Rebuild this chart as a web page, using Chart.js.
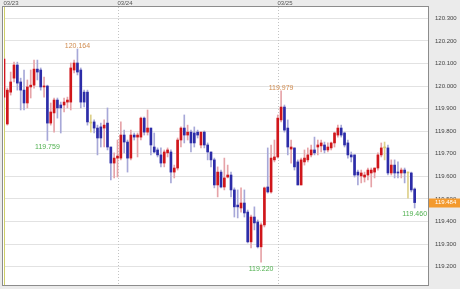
<!DOCTYPE html>
<html>
<head>
<meta charset="utf-8">
<script src="https://cdn.jsdelivr.net/npm/chart.js@4.4.1/dist/chart.umd.min.js"></script>
<style>
  html, body { margin: 0; padding: 0; background: #ebebeb; }
  #wrap { width: 460px; height: 289px; position: relative; }
</style>
</head>
<body>
<div id="wrap"><canvas id="c"></canvas></div>
<script>
// USD/JPY 30-minute candles, 03/23 07:00 -> 03/25

const opens = [
  119.951, 119.832, 119.973, 120.035, 120.093, 120.018, 119.982, 119.925, 119.996, 120.004,
  120.075, 120.071, 119.996, 120.000, 119.836, 119.881, 119.938, 119.916, 119.916, 119.929,
  119.929, 120.071, 120.102, 120.071, 119.973, 119.973, 119.836, 119.841, 119.814, 119.819,
  119.814, 119.836, 119.730, 119.659, 119.681, 119.681, 119.783, 119.752, 119.681, 119.783,
  119.774, 119.774, 119.858, 119.796, 119.814, 119.730, 119.717, 119.695, 119.659, 119.704,
  119.708, 119.619, 119.637, 119.761, 119.814, 119.783, 119.796, 119.792, 119.796, 119.739,
  119.796, 119.739, 119.708, 119.673, 119.562, 119.619, 119.553, 119.597, 119.606, 119.540,
  119.473, 119.460, 119.482, 119.442, 119.310, 119.420, 119.398, 119.288, 119.385, 119.553,
  119.531, 119.673, 119.686, 119.850, 119.907, 119.814, 119.721, 119.726, 119.664, 119.562,
  119.664, 119.673, 119.695, 119.717, 119.730, 119.735, 119.739, 119.717, 119.726, 119.748,
  119.783, 119.814, 119.792, 119.748, 119.695, 119.695, 119.619, 119.602, 119.597, 119.606,
  119.615, 119.619, 119.637, 119.695, 119.726, 119.726, 119.615, 119.650, 119.619, 119.615,
  119.628, 119.615, 119.615, 119.544
];
const highs = [
  120.124, 119.991, 120.062, 120.106, 120.106, 120.035, 120.071, 120.027, 120.071, 120.115,
  120.115, 120.080, 120.040, 120.004, 119.925, 119.947, 119.947, 119.929, 119.947, 119.951,
  120.102, 120.115, 120.164, 120.080, 119.982, 119.982, 119.872, 119.850, 119.827, 119.836,
  119.850, 119.903, 119.730, 119.704, 119.761, 119.841, 119.805, 119.761, 119.805, 119.792,
  119.792, 119.863, 119.863, 119.894, 119.814, 119.792, 119.726, 119.726, 119.717, 119.726,
  119.717, 119.650, 119.770, 119.819, 119.872, 119.827, 119.805, 119.819, 119.805, 119.796,
  119.801, 119.748, 119.708, 119.681, 119.642, 119.628, 119.681, 119.650, 119.619, 119.549,
  119.540, 119.549, 119.540, 119.451, 119.429, 119.465, 119.407, 119.394, 119.553, 119.726,
  119.739, 119.761, 119.872, 119.979, 119.916, 119.850, 119.761, 119.726, 119.673, 119.681,
  119.717, 119.726, 119.739, 119.774, 119.761, 119.761, 119.752, 119.748, 119.752, 119.796,
  119.827, 119.827, 119.796, 119.761, 119.708, 119.695, 119.628, 119.628, 119.619, 119.637,
  119.637, 119.637, 119.704, 119.748, 119.752, 119.739, 119.673, 119.673, 119.664, 119.637,
  119.637, 119.619, 119.619, 119.549
];
const lows = [
  119.938, 119.827, 119.960, 120.018, 119.982, 119.894, 119.894, 119.903, 119.947, 119.991,
  120.027, 119.982, 119.951, 119.759, 119.827, 119.796, 119.858, 119.792, 119.885, 119.903,
  119.894, 120.058, 120.049, 119.903, 119.907, 119.827, 119.796, 119.792, 119.695, 119.730,
  119.730, 119.717, 119.584, 119.593, 119.597, 119.673, 119.704, 119.619, 119.673, 119.761,
  119.686, 119.761, 119.783, 119.783, 119.695, 119.704, 119.686, 119.642, 119.642, 119.686,
  119.571, 119.593, 119.628, 119.730, 119.748, 119.761, 119.708, 119.730, 119.770, 119.726,
  119.726, 119.673, 119.642, 119.549, 119.509, 119.549, 119.540, 119.593, 119.509, 119.420,
  119.416, 119.442, 119.420, 119.305, 119.283, 119.363, 119.283, 119.220, 119.376, 119.526,
  119.526, 119.664, 119.681, 119.841, 119.796, 119.695, 119.659, 119.628, 119.562, 119.562,
  119.650, 119.664, 119.686, 119.695, 119.695, 119.708, 119.704, 119.708, 119.717, 119.730,
  119.774, 119.774, 119.730, 119.681, 119.664, 119.597, 119.562, 119.571, 119.575, 119.584,
  119.553, 119.593, 119.628, 119.686, 119.673, 119.606, 119.606, 119.593, 119.593, 119.593,
  119.571, 119.504, 119.531, 119.460
];
const closes = [
  120.119, 119.982, 120.018, 120.093, 120.013, 119.982, 119.925, 119.996, 120.004, 120.075,
  120.062, 119.996, 120.000, 119.836, 119.885, 119.938, 119.903, 119.903, 119.929, 119.938,
  120.080, 120.102, 120.062, 119.929, 119.929, 119.841, 119.836, 119.814, 119.770, 119.770,
  119.827, 119.730, 119.659, 119.681, 119.690, 119.783, 119.752, 119.681, 119.783, 119.774,
  119.783, 119.858, 119.796, 119.814, 119.739, 119.708, 119.695, 119.659, 119.708, 119.717,
  119.619, 119.637, 119.761, 119.814, 119.783, 119.796, 119.748, 119.748, 119.783, 119.796,
  119.739, 119.708, 119.673, 119.562, 119.619, 119.553, 119.593, 119.606, 119.540, 119.465,
  119.465, 119.482, 119.438, 119.310, 119.420, 119.394, 119.288, 119.385, 119.549, 119.531,
  119.681, 119.686, 119.858, 119.907, 119.805, 119.730, 119.730, 119.642, 119.562, 119.673,
  119.681, 119.695, 119.717, 119.704, 119.739, 119.748, 119.717, 119.730, 119.748, 119.792,
  119.814, 119.783, 119.739, 119.695, 119.686, 119.606, 119.606, 119.615, 119.606, 119.628,
  119.628, 119.637, 119.695, 119.726, 119.726, 119.615, 119.650, 119.615, 119.615, 119.628,
  119.615, 119.615, 119.540, 119.484
];

const priceTicks = [119.2, 119.3, 119.4, 119.5, 119.6, 119.7, 119.8, 119.9, 120.0, 120.1, 120.2, 120.3];
const highMarks = [22, 83];        // candle indexes with a labelled high
const lowMarks = [13, 77, 123];    // candle indexes with a labelled low
const SLOTS = 128;                 // 30-min slots on the axis (a few left empty on the right)

// "03/23 07:00", "03/23 07:30", ...
const times = [];
for (let i = 0; i < SLOTS; i++) {
  const t = 7 * 60 + 30 * i;
  const day = 23 + Math.floor(t / 1440), r = t % 1440;
  times.push(`03/${day} ${String(Math.floor(r / 60)).padStart(2, "0")}:${String(r % 60).padStart(2, "0")}`);
}
const dayStarts = times.map((t, i) => (i === 0 || t.endsWith(" 00:00")) ? i : -1).filter(i => i >= 0);

const FONT = "'Liberation Sans Narrow', 'Liberation Sans', Arial, sans-serif";
const dir = i => Math.sign(closes[i] - opens[i]);
const bodyColors = opens.map((o, i) => dir(i) > 0 ? "#d0161b" : dir(i) < 0 ? "#2c2ca8" : "#d8c86a");
const wickColors = opens.map((o, i) => dir(i) > 0 ? "#e6a3a8" : dir(i) < 0 ? "#a7a8d8" : "#ddd08a");

const chrome = {
  id: "chrome",
  beforeDraw(chart) {
    const { ctx, chartArea: a } = chart;
    ctx.save();
    ctx.fillStyle = "#ebebeb";
    ctx.fillRect(0, 0, chart.width, chart.height);
    ctx.fillStyle = "#ffffff";
    ctx.fillRect(a.left - 2, a.top, a.right - a.left + 2, a.bottom - a.top);
    ctx.restore();
  },
  beforeDatasetsDraw(chart) {
    const { ctx, chartArea: a, scales: { x } } = chart;
    ctx.save();
    ctx.font = `6px ${FONT}`;
    ctx.textBaseline = "middle";
    dayStarts.forEach((idx, k) => {
      const px = Math.round(x.getPixelForValue(idx)) + 0.5;
      ctx.strokeStyle = k === 0 ? "#cfcf6a" : "#c4c4c4";
      ctx.setLineDash(k === 0 ? [] : [1, 2]);
      ctx.beginPath(); ctx.moveTo(px, a.top); ctx.lineTo(px, a.bottom); ctx.stroke();
      ctx.fillStyle = "#555";
      ctx.fillText(times[idx].slice(0, 5), px - 1, 3.5);
    });
    ctx.restore();
  },
  afterDatasetsDraw(chart) {
    const { ctx, chartArea: a, scales: { x, y } } = chart;
    ctx.save();
    ctx.font = `7px ${FONT}`;
    ctx.textAlign = "center";
    ctx.fillStyle = "#d08c50";
    ctx.textBaseline = "bottom";
    highMarks.forEach(i => ctx.fillText(highs[i].toFixed(3), x.getPixelForValue(i), y.getPixelForValue(highs[i]) + 1));
    ctx.fillStyle = "#4fb04f";
    ctx.textBaseline = "top";
    lowMarks.forEach(i => ctx.fillText(lows[i].toFixed(3), x.getPixelForValue(i), y.getPixelForValue(lows[i]) + 3));
    // frame
    ctx.strokeStyle = "#8c8c8c";
    ctx.lineWidth = 1;
    ctx.strokeRect(a.left - 1.5, a.top - 0.5, a.right - a.left + 2, a.bottom - a.top + 1);
    ctx.restore();
  },
  afterDraw(chart) {
    // current price tag on the axis
    const { ctx, chartArea: a, scales: { y } } = chart;
    const last = closes[closes.length - 1];
    const py = y.getPixelForValue(last);
    ctx.save();
    ctx.fillStyle = "#f39a2e";
    ctx.fillRect(a.right + 1, Math.round(py) - 4.5, 32, 9);
    ctx.fillStyle = "#ffffff";
    ctx.font = `6px ${FONT}`;
    ctx.textBaseline = "middle";
    ctx.fillText(last.toFixed(3), a.right + 7, py);
    ctx.restore();
  }
};

new Chart(document.getElementById("c"), {
  type: "bar",
  data: {
    labels: times,
    datasets: [
      { data: opens.map((o, i) => [o, closes[i]]), backgroundColor: bodyColors,
        barThickness: 2, minBarLength: 1, grouped: false, order: 0, borderWidth: 0 },
      { data: lows.map((l, i) => [l, highs[i]]), backgroundColor: wickColors,
        barThickness: 1, grouped: false, order: 1, borderWidth: 0 }
    ]
  },
  options: {
    responsive: true, maintainAspectRatio: false, animation: false,
    layout: { padding: { left: 4, top: 7, right: 0, bottom: 4 } },
    plugins: { legend: { display: false }, tooltip: { enabled: false } },
    scales: {
      x: { type: "category", offset: false, display: false, grid: { display: false } },
      y: {
        position: "right", min: 119.119, max: 120.35,
        afterBuildTicks: s => { s.ticks = priceTicks.map(v => ({ value: v })); },
        afterFit: s => { s.width = 32; },
        grid: { color: "#e2e2e2", drawTicks: true, tickLength: 7, tickColor: "rgba(0,0,0,0)" },
        border: { display: false },
        ticks: { padding: 0, color: "#444", font: { family: FONT, size: 6 }, callback: v => v.toFixed(3) }
      }
    }
  },
  plugins: [chrome]
});
</script>
</body>
</html>
